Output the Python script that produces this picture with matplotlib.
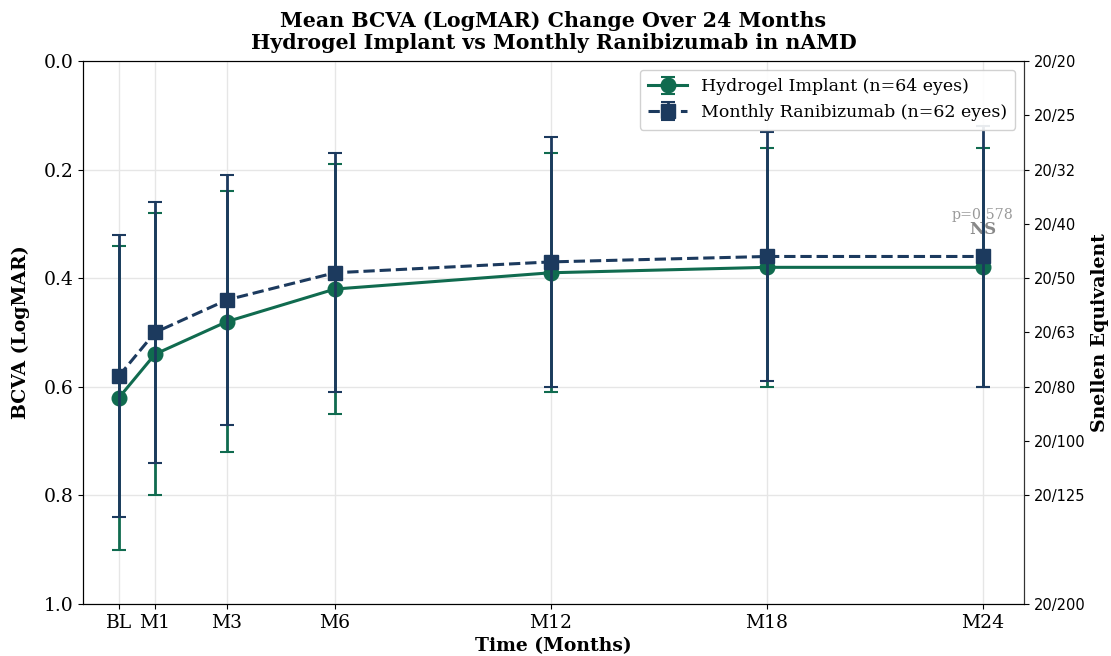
import matplotlib
matplotlib.use("Agg")
import matplotlib.pyplot as plt

plt.rcParams['font.family'] = 'DejaVu Serif'

# data
months = [0, 1, 3, 6, 12, 18, 24]
month_labels = ['BL', 'M1', 'M3', 'M6', 'M12', 'M18', 'M24']
hydrogel_mean = [0.62, 0.54, 0.48, 0.42, 0.39, 0.38, 0.38]
hydrogel_sd = [0.28, 0.26, 0.24, 0.23, 0.22, 0.22, 0.22]
ranib_mean = [0.58, 0.50, 0.44, 0.39, 0.37, 0.36, 0.36]
ranib_sd = [0.26, 0.24, 0.23, 0.22, 0.23, 0.23, 0.24]

snellen_logmar = [0.0, 0.1, 0.2, 0.3, 0.4, 0.5, 0.6, 0.7, 0.8, 1.0]
snellen_labels = ['20/20', '20/25', '20/32', '20/40', '20/50', '20/63',
                  '20/80', '20/100', '20/125', '20/200']

green = '#106b4f'
navy = '#1c3a5e'

fig = plt.figure(figsize=(11.11, 6.56), dpi=100)
ax = fig.add_axes([0.0747, 0.0793, 0.8470, 0.8277])

ax.errorbar(months, hydrogel_mean, yerr=hydrogel_sd, color=green, marker='o',
            markersize=10.5, linewidth=2.2, elinewidth=2, capsize=5, capthick=1.5,
            label='Hydrogel Implant (n=64 eyes)', zorder=3)
ax.errorbar(months, ranib_mean, yerr=ranib_sd, color=navy, marker='s',
            markersize=10.5, linewidth=2.2, linestyle='--', elinewidth=2,
            capsize=5, capthick=1.5,
            label='Monthly Ranibizumab (n=62 eyes)', zorder=4)

ax.text(24, 0.283, 'p=0.578', ha='center', va='center', fontsize=10.2, color='#999999')
ax.text(24, 0.31, 'NS', ha='center', va='center', fontsize=12,
        fontweight='bold', color='#888888')

ax.set_xlim(-1, 25.15)
ax.set_ylim(1.0, 0.0)
ax.set_xticks(months)
ax.set_xticklabels(month_labels)
ax.set_yticks([0.0, 0.2, 0.4, 0.6, 0.8, 1.0])
ax.tick_params(labelsize=13.5)
ax.grid(True, color='#e6e6e6', linewidth=1)
ax.set_axisbelow(True)

ax.set_xlabel('Time (Months)', fontsize=13.5, fontweight='bold', labelpad=4)
ax.set_ylabel('BCVA (LogMAR)', fontsize=13.6, fontweight='bold', labelpad=10)
ax.set_title('Mean BCVA (LogMAR) Change Over 24 Months\n'
             'Hydrogel Implant vs Monthly Ranibizumab in nAMD',
             fontsize=14.8, fontweight='bold', linespacing=1.12, pad=9)

for side in ['top', 'right']:
    ax.spines[side].set_color('#333333')
for side in ['left', 'bottom']:
    ax.spines[side].set_color('black')

ax2 = ax.twinx()
ax2.set_ylim(1.0, 0.0)
ax2.set_yticks(snellen_logmar)
ax2.set_yticklabels(snellen_labels, family='DejaVu Sans')
ax2.tick_params(labelsize=10.5)
ax2.set_ylabel('Snellen Equivalent', fontsize=13.6, fontweight='bold')
ax2.spines['right'].set_color('#333333')

ax.legend(loc='upper right', fontsize=12.5, framealpha=0.9, borderpad=0.5,
          handlelength=2.2)

fig.savefig('out.png', dpi=100)
